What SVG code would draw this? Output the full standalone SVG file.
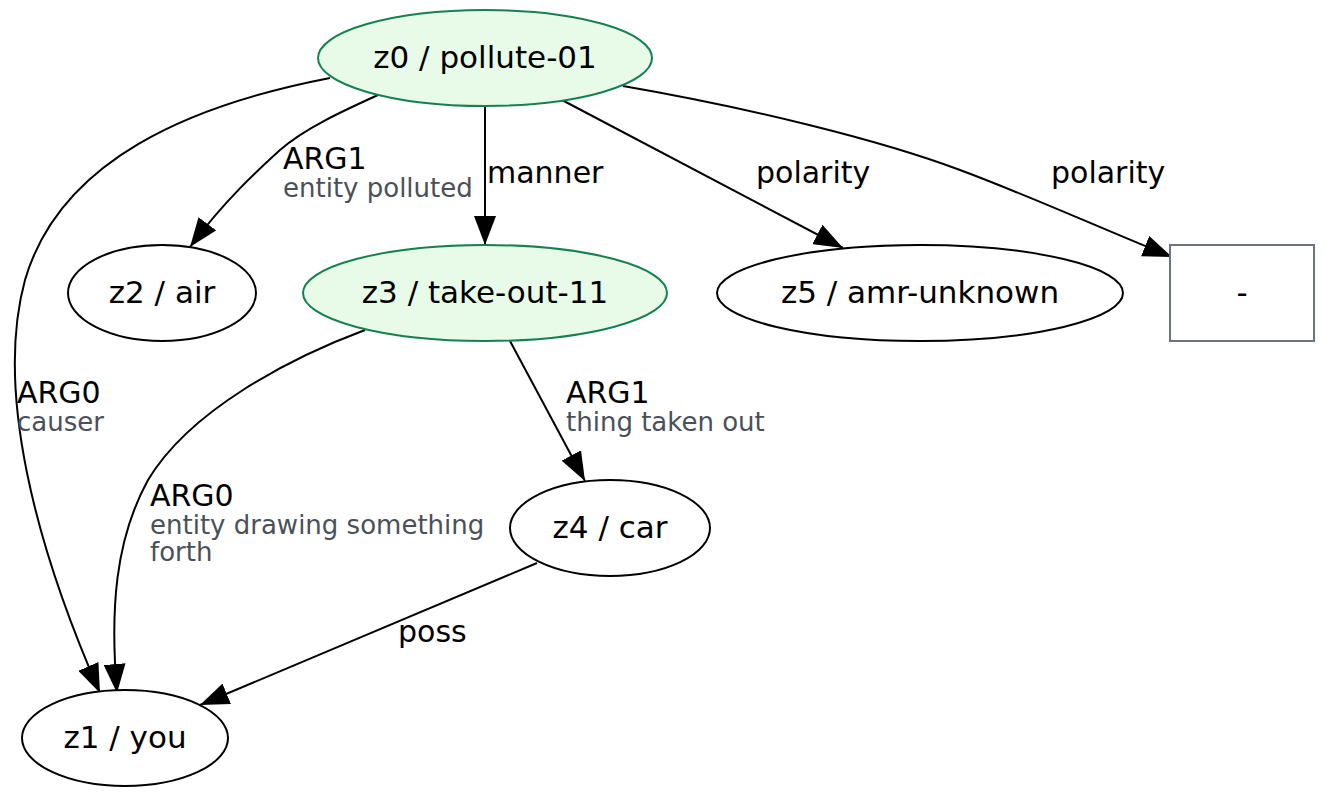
<svg xmlns="http://www.w3.org/2000/svg" width="1325" height="797" viewBox="0 0 1325 797">
<style>
text{font-family:"DejaVu Sans","Liberation Sans",sans-serif;}
.nl{font-size:31px;fill:#000;text-anchor:middle;}
.el{font-size:30px;fill:#000;}
.ed{font-size:26px;fill:#4a5059;}
.n{fill:#fff;stroke:#000;stroke-width:2;}
.g{fill:#e8fbe8;stroke:#168150;stroke-width:2;}
.b{fill:#fff;stroke:#6c757d;stroke-width:2;}
.e{fill:none;stroke:#000;stroke-width:2;marker-end:url(#ah);}
</style>
<defs>
<marker id="ah" markerUnits="userSpaceOnUse" markerWidth="30" markerHeight="22" refX="29" refY="11" orient="auto">
<path d="M0,0 L29,11 L0,22 z" fill="#000"/>
</marker>
</defs>
<rect width="1325" height="797" fill="#fff"/>
<g id="edges">
<path class="e" d="M330,78 C190,105 60,160 25,280 C-5,390 35,545 100,693"/>
<path class="e" d="M378,95 C345,110 305,128 280,150 C258,170 225,200 190,247"/>
<path class="e" d="M485,106 L485,245"/>
<path class="e" d="M562,100 L843,248"/>
<path class="e" d="M623,86 C750,108 880,140 960,170 C1030,196 1100,228 1172,257"/>
<path class="e" d="M365,330 C290,358 190,410 148,480 C115,540 110,610 117,693"/>
<path class="e" d="M510,341 L585,481"/>
<path class="e" d="M537,563 L200,705"/>
<text class="el" x="17" y="403">ARG0</text>
<text class="ed" x="17" y="431">causer</text>
<text class="el" x="283" y="169">ARG1</text>
<text class="ed" x="283" y="197">entity polluted</text>
<text class="el" x="487" y="183">manner</text>
<text class="el" x="756" y="183">polarity</text>
<text class="el" x="1051" y="183">polarity</text>
<text class="el" x="150" y="506">ARG0</text>
<text class="ed" x="150" y="534">entity drawing something</text>
<text class="ed" x="150" y="561">forth</text>
<text class="el" x="566" y="403">ARG1</text>
<text class="ed" x="566" y="431">thing taken out</text>
<text class="el" x="398" y="642">poss</text>
</g>
<g id="z0"><ellipse class="g" cx="485" cy="58" rx="167" ry="48"/><text class="nl" x="485" y="68">z0 / pollute-01</text></g>
<g id="z2"><ellipse class="n" cx="162" cy="293" rx="94" ry="48"/><text class="nl" x="162" y="303">z2 / air</text></g>
<g id="z3"><ellipse class="g" cx="485" cy="293" rx="182" ry="48"/><text class="nl" x="485" y="303">z3 / take-out-11</text></g>
<g id="z5"><ellipse class="n" cx="920" cy="293" rx="203" ry="48"/><text class="nl" x="920" y="303">z5 / amr-unknown</text></g>
<g id="minus"><rect class="b" x="1170" y="245" width="144" height="96"/><text class="nl" x="1242" y="303">-</text></g>
<g id="z4"><ellipse class="n" cx="610" cy="528" rx="100" ry="48"/><text class="nl" x="610" y="538">z4 / car</text></g>
<g id="z1"><ellipse class="n" cx="125" cy="738" rx="103" ry="48"/><text class="nl" x="125" y="748">z1 / you</text></g>
</svg>
